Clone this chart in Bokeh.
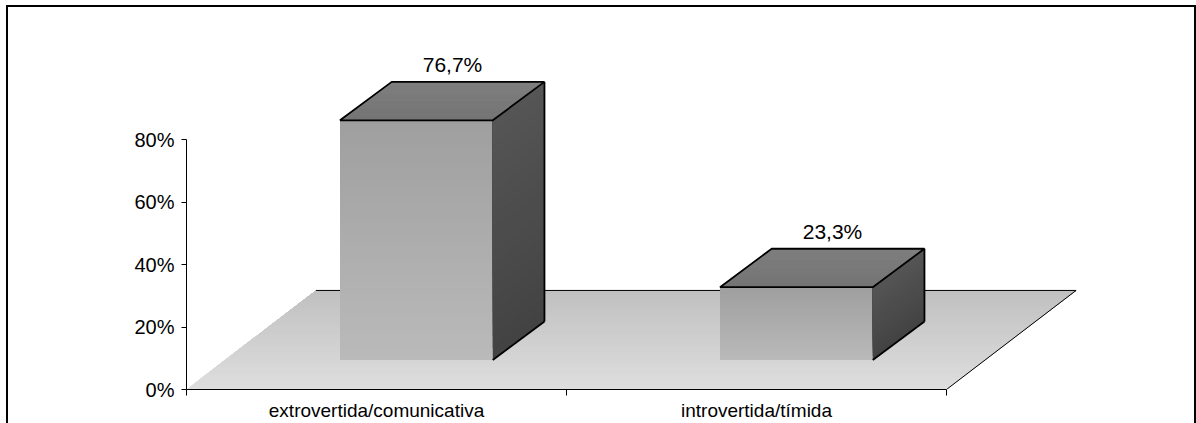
import numpy as np
from bokeh.plotting import figure
from bokeh.models import FixedTicker, Range1d, ColumnDataSource
from bokeh.embed import file_html
from bokeh.resources import INLINE
from bokeh.core.properties import value

# ---- data ----
categories = ["extrovertida/comunicativa", "introvertida/tímida"]
values = [76.7, 23.3]
value_labels = [f"{v:.1f}".replace(".", ",") + "%" for v in values]
y_ticks = [0, 20, 40, 60, 80]
y_tick_labels = [f"{t}%" for t in y_ticks]

# ---- 3D geometry (axis units: x = category units, y = percent) ----
BAR_W = 0.402
FRONT_DX, FRONT_DY = 0.105, 9.44
DEPTH_DX, DEPTH_DY = 0.136, 12.3
FLOOR_DX, FLOOR_DY = 0.341, 31.7
N_CAT = len(categories)

FONT = "Liberation Sans"

W, H = 1196, 423
LEFT, BOTTOM = 186, 34
p = figure(width=W, height=H,
           x_range=Range1d(0, (W - LEFT) / 380), y_range=Range1d(0, (H - BOTTOM) / 3.125),
           output_backend="svg", toolbar_location=None,
           min_border_left=LEFT, min_border_right=0, min_border_top=0, min_border_bottom=BOTTOM)
p.outline_line_color = None
p.grid.visible = False
p.background_fill_color = None
p.border_fill_color = None
# chart border (the reference frame is cut at the bottom): drawn as CSS background lines
p.styles = {
    "background-color": "white",
    "background-image": "linear-gradient(#000,#000), linear-gradient(#000,#000), linear-gradient(#000,#000)",
    "background-position": "6px 5px, 6px 5px, 1194px 5px",
    "background-size": "2px 600px, 1190px 2px, 2px 600px",
    "background-repeat": "no-repeat",
}


def hex2rgb(h):
    h = h.lstrip("#")
    return tuple(int(h[i:i + 2], 16) for i in (0, 2, 4))


def mix(c0, c1, t):
    a, b = hex2rgb(c0), hex2rgb(c1)
    return "#%02x%02x%02x" % tuple(int(round(a[i] + (b[i] - a[i]) * t)) for i in range(3))


def lerp(a, b, t):
    return (a[0] + (b[0] - a[0]) * t, a[1] + (b[1] - a[1]) * t)


def grad_quad(bl, br, tl, tr, c0, c1, n):
    # painter's gradient: each strip runs from its start to the far edge, later strips cover earlier
    xs, ys, cols = [], [], []
    for i in range(n):
        t0 = i / n
        q = [lerp(bl, tl, t0), lerp(br, tr, t0), tr, tl]
        xs.append([pt[0] for pt in q])
        ys.append([pt[1] for pt in q])
        cols.append(mix(c0, c1, (i + 0.5) / n))
    src = ColumnDataSource(dict(xs=xs, ys=ys, color=cols))
    p.patches("xs", "ys", source=src, fill_color="color", line_color=None)


# floor
grad_quad((0, 0), (N_CAT, 0), (FLOOR_DX, FLOOR_DY), (N_CAT + FLOOR_DX, FLOOR_DY),
          "#dedede", "#c0c0c0", 40)
p.multi_line(xs=[[FLOOR_DX, N_CAT + FLOOR_DX], [N_CAT, N_CAT + FLOOR_DX]],
             ys=[[FLOOR_DY, FLOOR_DY], [0, FLOOR_DY]], line_color="black", line_width=1)

# bars
lab_x, lab_y = [], []
for i, v in enumerate(values):
    c = i + 0.5
    x0 = c - BAR_W / 2 + FRONT_DX
    x1 = c + BAR_W / 2 + FRONT_DX
    yb = FRONT_DY
    yt = FRONT_DY + v
    # front face
    grad_quad((x0, yb), (x1, yb), (x0, yt), (x1, yt), "#bababa", "#9f9f9f", 40)
    # right face
    grad_quad((x1, yb), (x1 + DEPTH_DX, yb + DEPTH_DY), (x1, yt), (x1 + DEPTH_DX, yt + DEPTH_DY),
              "#434343", "#555555", 20)
    # top face
    grad_quad((x0, yt), (x1, yt), (x0 + DEPTH_DX, yt + DEPTH_DY), (x1 + DEPTH_DX, yt + DEPTH_DY),
              "#747474", "#7e7e7e", 10)
    p.patch([x0, x1, x1 + DEPTH_DX, x0 + DEPTH_DX], [yt, yt, yt + DEPTH_DY, yt + DEPTH_DY],
            fill_color=None, line_color="black", line_width=1.8)
    p.multi_line(xs=[[x1 + DEPTH_DX, x1 + DEPTH_DX], [x1, x1 + DEPTH_DX]],
                 ys=[[yt + DEPTH_DY, yb + DEPTH_DY], [yb, yb + DEPTH_DY]],
                 line_color="black", line_width=1.8)
    lab_x.append(c + FRONT_DX + DEPTH_DX - 0.041)
    lab_y.append(yt + DEPTH_DY + 2.0)

p.text(x=lab_x, y=lab_y, text=value_labels, text_font=value(FONT), text_font_size="21px",
       text_align="center", text_baseline="bottom", text_color="black")

# y axis
ya = p.yaxis[0]
ya.ticker = FixedTicker(ticks=y_ticks, minor_ticks=[])
ya.major_label_overrides = {t: l for t, l in zip(y_ticks, y_tick_labels)}
ya.bounds = (y_ticks[0], y_ticks[-1])
ya.major_tick_out = 5
ya.major_tick_in = 0
ya.minor_tick_out = 0
ya.minor_tick_in = 0
ya.major_label_standoff = 7
ya.major_label_text_font = FONT
ya.major_label_text_font_size = "20px"
ya.major_label_text_color = "black"
ya.axis_line_color = "black"
ya.major_tick_line_color = "black"

# x axis
xa = p.xaxis[0]
centers = [i + 0.5 for i in range(N_CAT)]
xa.ticker = FixedTicker(ticks=centers, minor_ticks=list(range(N_CAT + 1)))
xa.major_label_overrides = {c: l for c, l in zip(centers, categories)}
xa.bounds = (0, N_CAT)
xa.major_tick_out = 0
xa.major_tick_in = 0
xa.minor_tick_out = 6
xa.minor_tick_in = 0
xa.major_label_standoff = 4
xa.major_label_text_font = FONT
xa.major_label_text_font_size = "19px"
xa.major_label_text_color = "black"
xa.axis_line_color = "black"
xa.minor_tick_line_color = "black"

open("out.html", "w").write(file_html(p, INLINE))
